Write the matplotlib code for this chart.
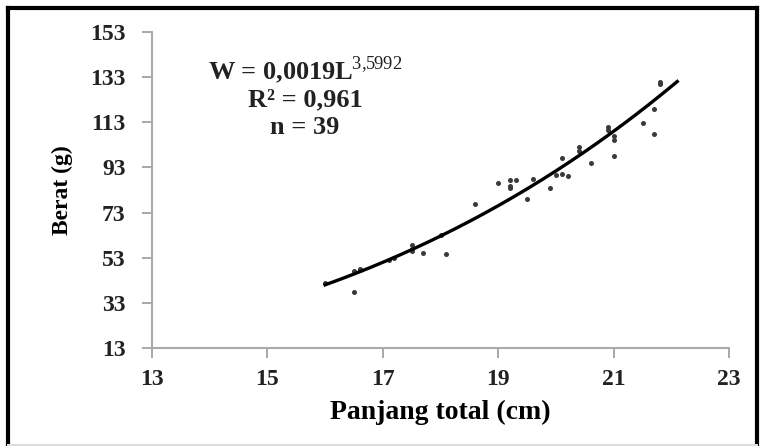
import numpy as np
import matplotlib
matplotlib.use("Agg")
import matplotlib.pyplot as plt
from matplotlib.lines import Line2D

# length (cm) and weight (g)
panjang = [16.0, 16.5, 16.5, 16.6, 16.6, 17.1, 17.2, 17.5, 17.5, 17.5, 17.7, 18.0, 18.1,
           18.6, 19.0, 19.2, 19.2, 19.3, 19.5, 19.6, 19.9, 20.0, 20.1, 20.2, 20.4, 20.4,
           20.6, 20.9, 20.9, 21.0, 21.0, 21.0, 21.5, 21.7, 21.7, 21.8, 21.8, 20.1, 19.2]
berat = [42.0, 38.0, 47.0, 48.0, 47.5, 52.0, 53.0, 58.5, 56.0, 57.0, 55.0, 63.0, 54.5,
         77.0, 86.0, 87.5, 84.0, 87.5, 79.0, 88.0, 84.0, 89.5, 97.0, 89.0, 100.5, 102.0,
         95.0, 111.0, 109.5, 105.0, 98.0, 107.0, 112.5, 119.0, 108.0, 131.0, 130.0, 90.0, 85.0]

a_coef = 0.0019
b_coef = 3.5992
x_ticks = [13, 15, 17, 19, 21, 23]
y_ticks = [13, 33, 53, 73, 93, 113, 133, 153]

plt.rcParams['font.family'] = ['Liberation Serif', 'DejaVu Serif']
plt.rcParams['mathtext.fontset'] = 'custom'
plt.rcParams['mathtext.rm'] = 'Liberation Serif'
plt.rcParams['mathtext.bf'] = 'Liberation Serif:bold'

fig = plt.figure(figsize=(7.61, 4.46), dpi=100)
ax = fig.add_axes([0.1997, 0.2197, 0.7585, 0.7085])

ax.scatter(panjang, berat, s=13, color='#3a3a3a', zorder=3, linewidths=0)
xs = np.linspace(16.0, 22.1, 200)
ax.plot(xs, a_coef * xs ** b_coef, color='black', lw=2.4, zorder=4)

ax.set_xlim(13, 23)
ax.set_ylim(13, 153)
ax.set_xticks(x_ticks)
ax.set_yticks(y_ticks)
ax.tick_params(axis='both', labelsize=17, color='#999999', length=7, direction='out', width=1.2)
ax.tick_params(axis='y', pad=12)
ax.tick_params(axis='x', pad=8)
for lab in ax.get_xticklabels() + ax.get_yticklabels():
    lab.set_fontweight('bold')
    lab.set_color('#222222')
for s in ['top', 'right']:
    ax.spines[s].set_visible(False)
for s in ['left', 'bottom']:
    ax.spines[s].set_color('#aaaaaa')
    ax.spines[s].set_linewidth(1.5)

ax.set_xlabel('Panjang total (cm)', fontsize=20, fontweight='bold', labelpad=7)
ax.set_ylabel('Berat (g)', fontsize=17, fontweight='bold', labelpad=12)


def ypos(py):
    # pixel row of the reference -> axes fraction
    return (153 - (py - 32) / 2.257 - 13) / 140


ax.text(0.265, ypos(70), r'W = 0,0019L$^{\mathrm{3{,}5992}}$', transform=ax.transAxes,
        ha='center', va='center', fontsize=19, fontweight='bold', color='#222222')
ax.text(0.265, ypos(100), 'R² = 0,961', transform=ax.transAxes,
        ha='center', va='center', fontsize=19, fontweight='bold', color='#222222')
ax.text(0.265, ypos(127), 'n = 39', transform=ax.transAxes,
        ha='center', va='center', fontsize=19, fontweight='bold', color='#222222')

# frame around the whole picture
fig.add_artist(Line2D([8 / 761, 8 / 761], [0, 1 - 8 / 446], transform=fig.transFigure,
                      color='black', lw=3))
fig.add_artist(Line2D([8 / 761, 757 / 761], [1 - 8 / 446, 1 - 8 / 446],
                      transform=fig.transFigure, color='black', lw=3))
fig.add_artist(Line2D([757 / 761, 757 / 761], [0, 1 - 8 / 446], transform=fig.transFigure,
                      color='black', lw=3))
fig.add_artist(Line2D([8 / 761, 757 / 761], [1 / 446, 1 / 446], transform=fig.transFigure,
                      color='#dddddd', lw=1.5))

fig.savefig('out.png', dpi=100)
